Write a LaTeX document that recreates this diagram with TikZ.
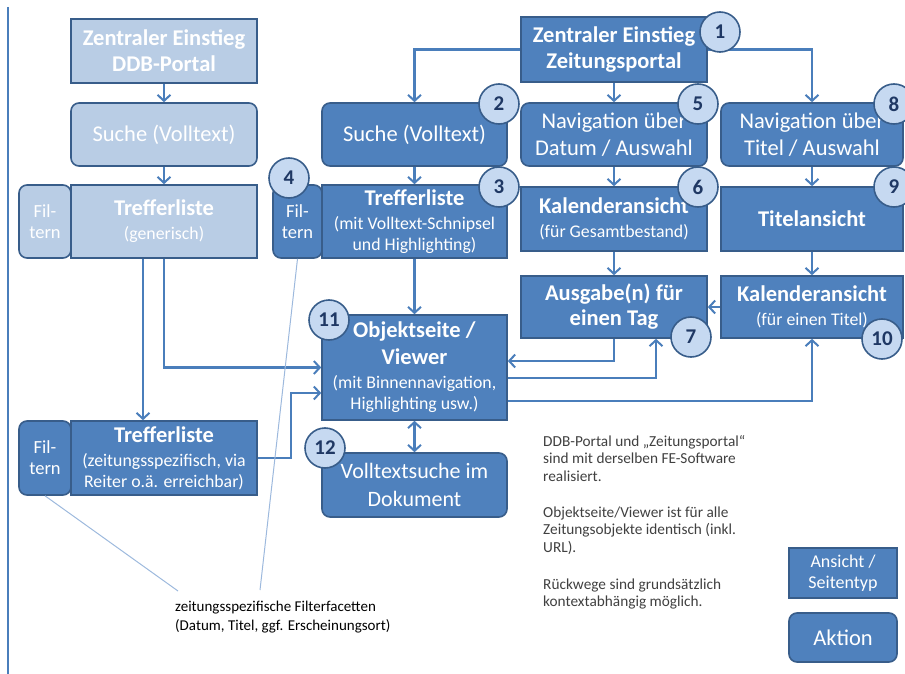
\documentclass[tikz,border=0pt]{standalone}
\usepackage{fontspec}
\setmainfont{Carlito}
\usetikzlibrary{arrows.meta,positioning,calc}
\definecolor{boxblau}{HTML}{4F81BD}
\definecolor{hellblau}{HTML}{B9CDE5}
\definecolor{randblau}{HTML}{385D8A}
\definecolor{kreisblau}{HTML}{C6D9F1}
\definecolor{nrblau}{HTML}{1F3864}
\definecolor{pfeilblau}{HTML}{4A7EBB}
\definecolor{notizgrau}{HTML}{404040}
\definecolor{linieblau}{HTML}{9DB9DD}
\newcommand{\subfont}{\fontsize{17.8}{21}\selectfont}
\newcommand{\filfont}{\fontsize{18.5}{21}\selectfont}
\tikzset{
  ansicht/.style={rectangle, draw=randblau, fill=boxblau, line width=1.6pt, text=white,
    align=center, inner sep=1pt, font=\fontsize{22.5}{26}\selectfont},
  aktion/.style={ansicht, rounded corners=8pt},
  hell/.style={fill=hellblau},
  nummer/.style={circle, draw=randblau, fill=kreisblau, line width=1.6pt, minimum size=40pt,
    inner sep=0pt, text=nrblau, font=\fontsize{21}{21}\selectfont\bfseries},
  pfeil/.style={draw=pfeilblau, line width=2.5pt, -{Straight Barb[length=6pt,width=13pt,line width=2pt]}},
  pfeilbeid/.style={pfeil, {Straight Barb[length=6pt,width=13pt,line width=2pt]}-{Straight Barb[length=6pt,width=13pt,line width=2pt]}},
  hinweis/.style={draw=linieblau, line width=1pt},
  notiz/.style={align=left, text=notizgrau, font=\fontsize{15.3}{17.5}\selectfont, inner sep=0pt, anchor=north west}
}
\begin{document}
\begin{tikzpicture}[x=1pt, y=-1pt]
  \useasboundingbox (0,0) rectangle (905,674);
  \draw[pfeilblau, line width=1.2pt] (8,7) -- (8,674);

  % DDB-Portal (links)
  \node[ansicht, hell, minimum width=186, minimum height=64] (zd) at (164,51) {\textbf{Zentraler Einstieg}\\\textbf{DDB-Portal}};
  \node[aktion, hell, minimum width=186, minimum height=63] (sd) at (164,134.5) {Suche (Volltext)};
  \node[ansicht, hell, minimum width=186, minimum height=73] (td) at (164,221.5) {\textbf{Trefferliste}\\[-2pt]\subfont (generisch)};
  \node[aktion, hell, minimum width=52, minimum height=73, font=\filfont] (fd) at (45,221.5) {Fil-\\tern};
  \node[ansicht, minimum width=186, minimum height=74] (ts) at (164,458) {\textbf{Trefferliste}\\[-2pt]\subfont (zeitungsspezifisch, via\\[-5pt]\subfont Reiter o.ä. erreichbar)};
  \node[aktion, minimum width=52, minimum height=74, font=\filfont] (fs) at (45,458) {Fil-\\tern};

  % Zeitungsportal
  \node[ansicht, minimum width=186, minimum height=65] (zp) at (614,49.5) {\textbf{Zentraler Einstieg}\\\textbf{Zeitungsportal}};
  \node[aktion, minimum width=185, minimum height=63] (sz) at (414.5,134.5) {Suche (Volltext)};
  \node[aktion, minimum width=186, minimum height=63, font=\fontsize{22.5}{27}\selectfont] (nd) at (614,134.5) {Navigation über\\Datum / Auswahl};
  \node[aktion, minimum width=182, minimum height=63, font=\fontsize{22.5}{27}\selectfont] (nt) at (812,134.5) {Navigation über\\Titel / Auswahl};
  \node[ansicht, minimum width=185, minimum height=73] (tz) at (414.5,221.5) {\textbf{Trefferliste}\\[-2pt]\subfont (mit Volltext-Schnipsel\\[-5pt]\subfont und Highlighting)};
  \node[aktion, minimum width=49, minimum height=73, font=\filfont] (f4) at (297.5,221.5) {Fil-\\tern};
  \node[ansicht, minimum width=186, minimum height=64] (kg) at (614,219) {\textbf{Kalenderansicht}\\[-2pt]\subfont (für Gesamtbestand)};
  \node[ansicht, minimum width=182, minimum height=64] (ti) at (812,219) {\textbf{Titelansicht}};
  \node[ansicht, minimum width=186, minimum height=62] (au) at (614,307) {\textbf{Ausgabe(n) für}\\[-1pt]\textbf{einen Tag}};
  \node[ansicht, minimum width=182, minimum height=62] (kt) at (812,307) {\textbf{Kalenderansicht}\\[-2pt]\subfont (für einen Titel)};
  \node[ansicht, minimum width=185, minimum height=105] (ob) at (414.5,367.5) {\textbf{Objektseite /}\\[1pt]\textbf{Viewer}\\[-2pt]\subfont (mit Binnennavigation,\\[-5pt]\subfont Highlighting usw.)};
  \node[aktion, minimum width=185, minimum height=64, font=\fontsize{22}{28}\selectfont] (vs) at (414.5,485) {Volltextsuche im\\Dokument};

  % Pfeile
  \draw[pfeil] (zd) -- (sd);
  \draw[pfeil] (sd) -- (td);
  \draw[pfeil] (zp.west) -| (sz.north);
  \draw[pfeil] (zp) -- (nd);
  \draw[pfeil] (zp.east) -| (nt.north);
  \draw[pfeil] (sz) -- (tz);
  \draw[pfeil] (nd) -- (kg);
  \draw[pfeil] (nt) -- (ti);
  \draw[pfeil] (kg) -- (au);
  \draw[pfeil] (ti) -- (kt);
  \draw[pfeil] (kt) -- (au);
  \draw[pfeil] (tz) -- (ob);
  \draw[pfeil] (au.south) |- (ob.east |- 0,361);
  \draw[pfeil] (ob.east |- 0,378) -| ($(au.south)+(42,0)$);
  \draw[pfeil] (ob.east |- 0,401) -| (kt.south);
  \draw[pfeil] (td.south) |- (ob.west);
  \draw[pfeil] ($(td.south)+(-21,0)$) -- ($(ts.north)+(-21,0)$);
  \draw[pfeil] (ts.east) -- ++(33,0) |- (ob.west |- 0,393);
  \draw[pfeilbeid] (ob) -- (vs);

  % Nummern
  \node[nummer] (n1) at (720,32) {1};
  \node[nummer] (n2) at (499,104) {2};
  \node[nummer] (n3) at (499,187) {3};
  \node[nummer] (n4) at (289,178) {4};
  \node[nummer] (n5) at (698,104) {5};
  \node[nummer] (n6) at (698,187) {6};
  \node[nummer] (n7) at (691,337) {7};
  \node[nummer] (n8) at (894,104) {8};
  \node[nummer] (n9) at (894,187) {9};
  \node[nummer] (n10) at (882,339) {10};
  \node[nummer] (n11) at (329,320) {11};
  \node[nummer] (n12) at (325,448) {12};

  % Filterfacetten
  \coordinate (hl) at (178,591);
  \coordinate (hr) at (260,590);
  \draw[hinweis] (fs.south) -- (hl);
  \draw[hinweis] (f4.south) -- (hr);
  \node[notiz, text=black, font=\fontsize{15}{19}\selectfont] (facetten) at (175,601) {zeitungsspezifische Filterfacetten\\(Datum, Titel, ggf. Erscheinungsort)};

  % Hinweise
  \node[notiz] (notiz1) at (543,435) {DDB-Portal und „Zeitungsportal“\\sind mit derselben FE-Software\\realisiert.};
  \node[notiz] (notiz2) at (543,506.5) {Objektseite/Viewer ist für alle\\Zeitungsobjekte identisch (inkl.\\URL).};
  \node[notiz] (notiz3) at (543,578.5) {Rückwege sind grundsätzlich\\kontextabhängig möglich.};

  % Legende
  \node[ansicht, minimum width=108, minimum height=50, font=\fontsize{18}{21}\selectfont] (lega) at (843,573) {Ansicht /\\Seitentyp};
  \node[aktion, minimum width=108, minimum height=49, font=\fontsize{22.5}{24}\selectfont] (legb) at (843,637.5) {Aktion};
\end{tikzpicture}
\end{document}
